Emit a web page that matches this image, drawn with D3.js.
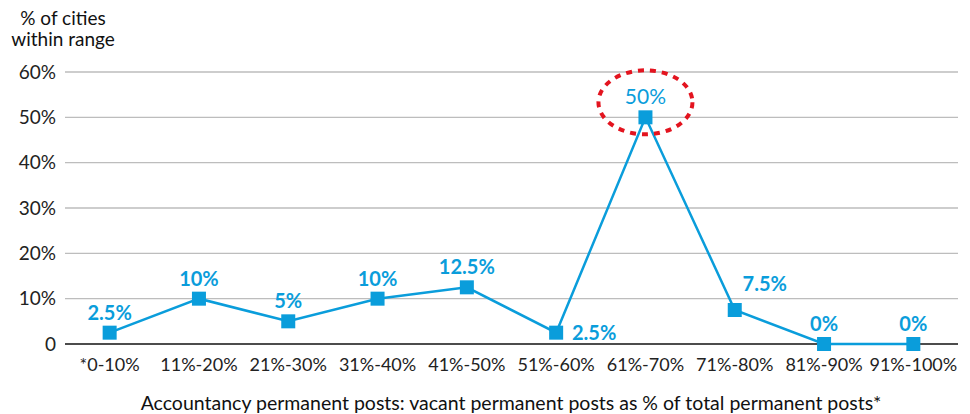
<!DOCTYPE html>
<html><head><meta charset="utf-8">
<script src="https://cdn.jsdelivr.net/npm/d3@7"></script>
<style>body{margin:0;background:#fff}svg{display:block;font-family:Lato,"Noto Sans",sans-serif}</style>
</head><body><svg id="c" width="970" height="414"></svg>
<script>
const categories = ["*0-10%","11%-20%","21%-30%","31%-40%","41%-50%","51%-60%","61%-70%","71%-80%","81%-90%","91%-100%"];
const values = [2.5,10,5,10,12.5,2.5,50,7.5,0,0];
const labels = ["2.5%","10%","5%","10%","12.5%","2.5%","50%","7.5%","0%","0%"];
const yTicks = [0,10,20,30,40,50,60];
const yTickLabels = ["0","10%","20%","30%","40%","50%","60%"];

(function(){
const svg = d3.select("#c");
const blue = "#0a9ddb";
const mL = 65, mR = 958, mT = 72, mB = 344;
const x = d3.scaleBand().domain(categories).range([mL, mR]);
const y = d3.scaleLinear().domain([0,60]).range([mB, mT]);
const cx = d => x(d) + x.bandwidth()/2;

svg.append("g").selectAll("line").data(yTicks.filter(t=>t>0)).join("line")
  .attr("x1", mL).attr("x2", mR).attr("y1", d=>y(d)).attr("y2", d=>y(d))
  .attr("stroke", "#bdbdbd").attr("stroke-width", 1.3);
svg.append("line").attr("x1", mL).attr("x2", mR).attr("y1", y(0)).attr("y2", y(0))
  .attr("stroke", "#111").attr("stroke-width", 1.5);

svg.append("g").selectAll("text").data(yTicks).join("text")
  .attr("x", 56).attr("y", d=>y(d)).attr("dy","0.35em").attr("text-anchor","end")
  .attr("font-size", 19).attr("fill","#222").text((d,i)=>yTickLabels[i]);

svg.append("g").selectAll("text").data(categories).join("text")
  .attr("x", d=>cx(d)).attr("y", 371).attr("text-anchor","middle")
  .attr("font-size", 18).attr("fill","#222").text(d=>d);

svg.append("text").attr("x", 63).attr("y", 25).attr("text-anchor","middle").attr("font-size",19).attr("fill","#111").text("% of cities");
svg.append("text").attr("x", 63).attr("y", 46).attr("text-anchor","middle").attr("font-size",19).attr("fill","#111").text("within range");
svg.append("text").attr("x", 511).attr("y", 410).attr("text-anchor","middle").attr("font-size",19.5).attr("fill","#111")
  .text("Accountancy permanent posts: vacant permanent posts as % of total permanent posts*");

const data = categories.map((c,i)=>({c, v:values[i], l:labels[i], i}));
svg.append("path").datum(data)
  .attr("d", d3.line().x(d=>cx(d.c)).y(d=>y(d.v)))
  .attr("fill","none").attr("stroke", blue).attr("stroke-width", 2.5);
svg.append("g").selectAll("rect").data(data).join("rect")
  .attr("x", d=>cx(d.c)-7).attr("y", d=>y(d.v)-7).attr("width",14).attr("height",14).attr("fill", blue);

const offs = {5:[38,0.35], 7:[30,-0.95]};
svg.append("g").selectAll("text").data(data).join("text")
  .attr("x", d=> cx(d.c) + (offs[d.i]?offs[d.i][0]:0))
  .attr("y", d=> offs[d.i] ? y(d.v) : y(d.v) - 13)
  .attr("dy", d=> offs[d.i] ? offs[d.i][1]+"em" : "0")
  .attr("text-anchor","middle").attr("font-size", d=> d.i===6 ? 21 : 20)
  .attr("font-weight", d=> d.i===6 ? "normal" : "bold")
  .attr("fill", blue).text(d=>d.l);

svg.append("ellipse").attr("cx", cx(categories[6])).attr("cy", y(50)-15)
  .attr("rx", 47).attr("ry", 32).attr("fill","none")
  .attr("stroke","#e3141f").attr("stroke-width",4).attr("stroke-dasharray","6,6");
})();
</script></body></html>
